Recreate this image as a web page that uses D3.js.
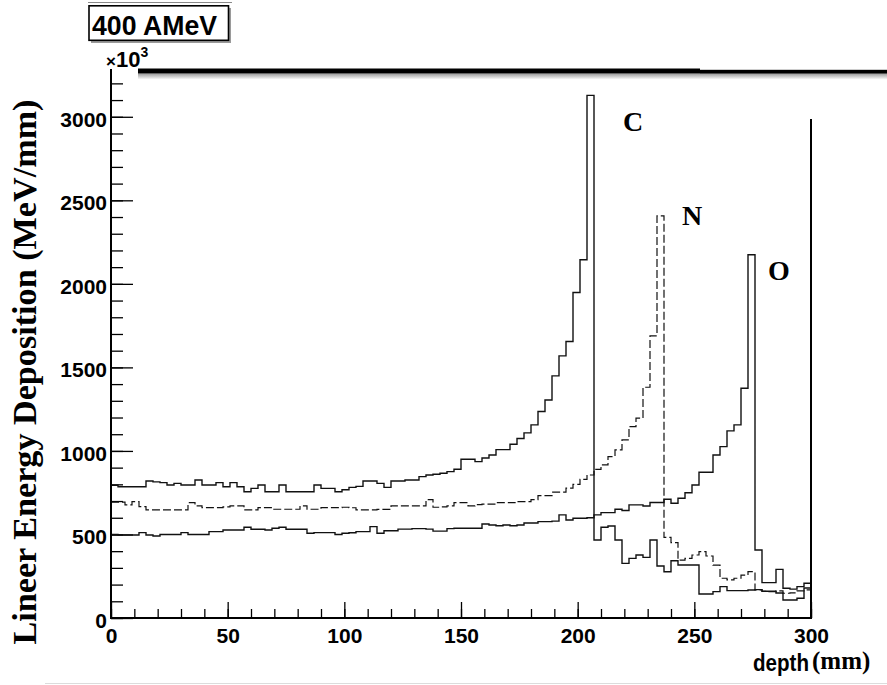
<!DOCTYPE html>
<html>
<head>
<meta charset="utf-8">
<script src="https://cdn.jsdelivr.net/npm/d3@7"></script>
<style>
  html, body { margin: 0; padding: 0; background: #fff; }
  svg { display: block; }
</style>
</head>
<body>
<svg id="chart" width="887" height="685"></svg>
<script>
// Depth binning (mm): 100 bins of 3 mm from 0 to 300
const binWidth = 3;
const depthBins = d3.range(0, 300, binWidth);

// Linear energy deposition per bin (MeV/mm, in units of 10^3)
const carbonLET = [
  795, 786, 786, 786, 786, 820, 815, 810, 796, 806,
  796, 796, 826, 796, 796, 810, 786, 810, 786, 756,
  776, 796, 756, 756, 796, 756, 756, 756, 756, 796,
  776, 776, 756, 768, 782, 788, 820, 820, 806, 782,
  820, 820, 826, 826, 846, 856, 860, 866, 876, 890,
  950, 950, 936, 958, 976, 1008, 1008, 1040, 1074, 1108,
  1156, 1236, 1305, 1449, 1569, 1655, 1948, 2144, 3128, 467,
  543, 551, 467, 327, 357, 377, 363, 467, 311, 277,
  343, 317, 317, 317, 144, 144, 158, 188, 164, 164,
  164, 168, 170, 160, 160, 150, 108, 108, 118, 180
];
const nitrogenLET = [
  693, 693, 677, 696, 667, 647, 647, 647, 647, 647,
  647, 690, 671, 661, 661, 661, 665, 671, 671, 647,
  647, 661, 661, 651, 651, 651, 651, 671, 651, 651,
  661, 661, 661, 663, 660, 647, 647, 647, 650, 650,
  671, 671, 671, 671, 671, 708, 663, 665, 671, 691,
  691, 671, 679, 681, 681, 691, 691, 690, 697, 697,
  708, 733, 733, 753, 753, 777, 800, 830, 856, 890,
  916, 966, 1006, 1066, 1146, 1196, 1381, 1689, 2407, 483,
  451, 347, 357, 377, 397, 371, 317, 238, 228, 238,
  257, 277, 168, 160, 158, 162, 148, 150, 162, 168
];
const oxygenLET = [
  500, 497, 497, 497, 511, 497, 491, 500, 500, 500,
  511, 500, 500, 500, 517, 517, 527, 527, 527, 543,
  531, 531, 527, 537, 543, 531, 531, 531, 507, 511,
  511, 511, 500, 507, 510, 517, 517, 547, 507, 522,
  522, 532, 532, 535, 535, 532, 520, 520, 535, 537,
  537, 537, 537, 563, 557, 552, 557, 552, 557, 569,
  569, 577, 577, 580, 617, 587, 597, 597, 600, 617,
  631, 631, 651, 643, 677, 677, 670, 691, 691, 711,
  687, 717, 750, 796, 872, 872, 976, 1026, 1120, 1156,
  1375, 2174, 407, 212, 212, 291, 178, 173, 188, 208
];

const xMajorTicks = [0, 50, 100, 150, 200, 250, 300];
const xMinorTicks = d3.range(0, 301, 10);
const yMajorTicks = [0, 500, 1000, 1500, 2000, 2500, 3000];
const yMinorTicks = d3.range(0, 3201, 100);

const seriesLabels = ["C", "N", "O"];

const svg = d3.select("#chart");
const sansFont = "'Liberation Sans', Arial, Helvetica, sans-serif";
const serifFont = "'Liberation Serif', 'Times New Roman', Times, serif";

const x = d3.scaleLinear().domain([0, 300]).range([111, 811]);
const y = d3.scaleLinear().domain([0, 3280]).range([618, 70]);

// Minor ticks (drawn inside the frame)
svg.append("g")
  .attr("transform", `translate(${x(0)},0)`)
  .call(d3.axisLeft(y).tickValues(yMinorTicks).tickSize(-12).tickFormat(""))
  .call(g => g.select(".domain").remove())
  .selectAll("line").attr("stroke", "#000").attr("stroke-width", 1.3);

svg.append("g")
  .attr("transform", `translate(0,${y(0)})`)
  .call(d3.axisBottom(x).tickValues(xMinorTicks).tickSize(-9).tickFormat(""))
  .call(g => g.select(".domain").remove())
  .selectAll("line").attr("stroke", "#000").attr("stroke-width", 1.3);

// Major ticks with labels
const yAxis = svg.append("g")
  .attr("transform", `translate(${x(0)},0)`)
  .call(d3.axisLeft(y).tickValues(yMajorTicks).tickSize(-22).tickPadding(4).tickFormat(d3.format("d")));
yAxis.select(".domain").remove();
yAxis.selectAll("line").attr("stroke", "#000").attr("stroke-width", 1.3);
yAxis.selectAll("text")
  .attr("font-family", sansFont).attr("font-weight", "bold").attr("font-size", 21)
  .attr("fill", "#000").attr("dy", "0.45em");

const xAxis = svg.append("g")
  .attr("transform", `translate(0,${y(0)})`)
  .call(d3.axisBottom(x).tickValues(xMajorTicks).tickSize(-16).tickPadding(10).tickFormat(d3.format("d")));
xAxis.select(".domain").remove();
xAxis.selectAll("line").attr("stroke", "#000").attr("stroke-width", 1.3);
xAxis.selectAll("text")
  .attr("font-family", sansFont).attr("font-weight", "bold").attr("font-size", 21)
  .attr("fill", "#000");

// Histogram outlines
const stepLine = d3.line()
  .x(d => x(d[0]))
  .y(d => y(d[1]))
  .curve(d3.curveStepAfter);

function histPoints(values) {
  const pts = depthBins.map((d, i) => [d, values[i]]);
  pts.push([300, values[values.length - 1]]);
  return pts;
}

svg.append("path")
  .attr("d", stepLine(histPoints(oxygenLET)))
  .attr("fill", "none").attr("stroke", "#111").attr("stroke-width", 1.4);

svg.append("path")
  .attr("d", stepLine(histPoints(nitrogenLET)))
  .attr("fill", "none").attr("stroke", "#111").attr("stroke-width", 1.2)
  .attr("stroke-dasharray", "8,3");

svg.append("path")
  .attr("d", stepLine(histPoints(carbonLET)))
  .attr("fill", "none").attr("stroke", "#111").attr("stroke-width", 1.4);

// Frame lines
svg.append("line").attr("x1", x(0)).attr("x2", x(0)).attr("y1", 69).attr("y2", y(0) + 1)
  .attr("stroke", "#000").attr("stroke-width", 2);
svg.append("line").attr("x1", x(0) - 1).attr("x2", x(300) + 1).attr("y1", y(0)).attr("y2", y(0))
  .attr("stroke", "#000").attr("stroke-width", 2);
svg.append("line").attr("x1", x(300)).attr("x2", x(300)).attr("y1", 119).attr("y2", y(0))
  .attr("stroke", "#000").attr("stroke-width", 2);

// Heavy rule across the top of the plot
const defs = svg.append("defs");
const grad = defs.append("linearGradient").attr("id", "ruleShadow")
  .attr("x1", 0).attr("y1", 0).attr("x2", 0).attr("y2", 1);
grad.append("stop").attr("offset", "0%").attr("stop-color", "#9a9a9a");
grad.append("stop").attr("offset", "100%").attr("stop-color", "#ffffff");
svg.append("rect").attr("x", 138).attr("y", 73.5).attr("width", 749).attr("height", 6)
  .attr("fill", "url(#ruleShadow)");
svg.append("rect").attr("x", 138).attr("y", 68.5).attr("width", 562).attr("height", 5).attr("fill", "#000");
svg.append("rect").attr("x", 700).attr("y", 69.8).attr("width", 187).attr("height", 3.8).attr("fill", "#000");

// Exponent marker on the y axis
const expo = svg.append("text")
  .attr("x", 106).attr("y", 67)
  .attr("font-family", sansFont).attr("font-weight", "bold").attr("fill", "#000");
expo.append("tspan").attr("font-size", 17).text("×");
expo.append("tspan").attr("font-size", 22).text("10");
expo.append("tspan").attr("font-size", 14).attr("dy", -10).text("3");

// Energy label box
svg.append("line").attr("x1", 88).attr("x2", 232).attr("y1", 2.5).attr("y2", 2.5)
  .attr("stroke", "#8a8a8a").attr("stroke-width", 1);
svg.append("rect").attr("x", 91).attr("y", 8).attr("width", 140).attr("height", 35)
  .attr("fill", "#9a9a9a");
svg.append("rect").attr("x", 89).attr("y", 5.8).attr("width", 139.5).attr("height", 34.5)
  .attr("fill", "#fff").attr("stroke", "#000").attr("stroke-width", 1.6);
svg.append("text")
  .attr("x", 92).attr("y", 35)
  .attr("font-family", sansFont).attr("font-weight", "bold").attr("font-size", 28)
  .attr("textLength", 125).attr("lengthAdjust", "spacingAndGlyphs")
  .attr("fill", "#000").text("400 AMeV");

// Series labels next to the Bragg peaks
const labelPos = [[623, 131], [682, 225], [768, 280]];
svg.selectAll("text.series")
  .data(seriesLabels)
  .enter().append("text")
  .attr("class", "series")
  .attr("x", (d, i) => labelPos[i][0]).attr("y", (d, i) => labelPos[i][1])
  .attr("font-family", serifFont).attr("font-weight", "bold").attr("font-size", 28)
  .attr("fill", "#000").text(d => d);

// Axis titles
svg.append("text")
  .attr("transform", "translate(36,372) rotate(-90)")
  .attr("text-anchor", "middle")
  .attr("font-family", serifFont).attr("font-weight", "bold").attr("font-size", 33)
  .attr("textLength", 545).attr("lengthAdjust", "spacingAndGlyphs")
  .attr("fill", "#000").text("Lineer Energy Deposition (MeV/mm)");

svg.append("text")
  .attr("x", 753).attr("y", 671)
  .attr("font-family", sansFont).attr("font-weight", "bold").attr("font-size", 23)
  .attr("textLength", 56).attr("lengthAdjust", "spacingAndGlyphs")
  .attr("fill", "#000").text("depth");
svg.append("text")
  .attr("x", 812).attr("y", 669)
  .attr("font-family", serifFont).attr("font-weight", "bold").attr("font-size", 25)
  .attr("fill", "#000").text("(mm)");

// Faint rule along the bottom edge
svg.append("line").attr("x1", 45).attr("x2", 887).attr("y1", 683.5).attr("y2", 683.5)
  .attr("stroke", "#dcdcdc").attr("stroke-width", 1);
</script>
</body>
</html>
